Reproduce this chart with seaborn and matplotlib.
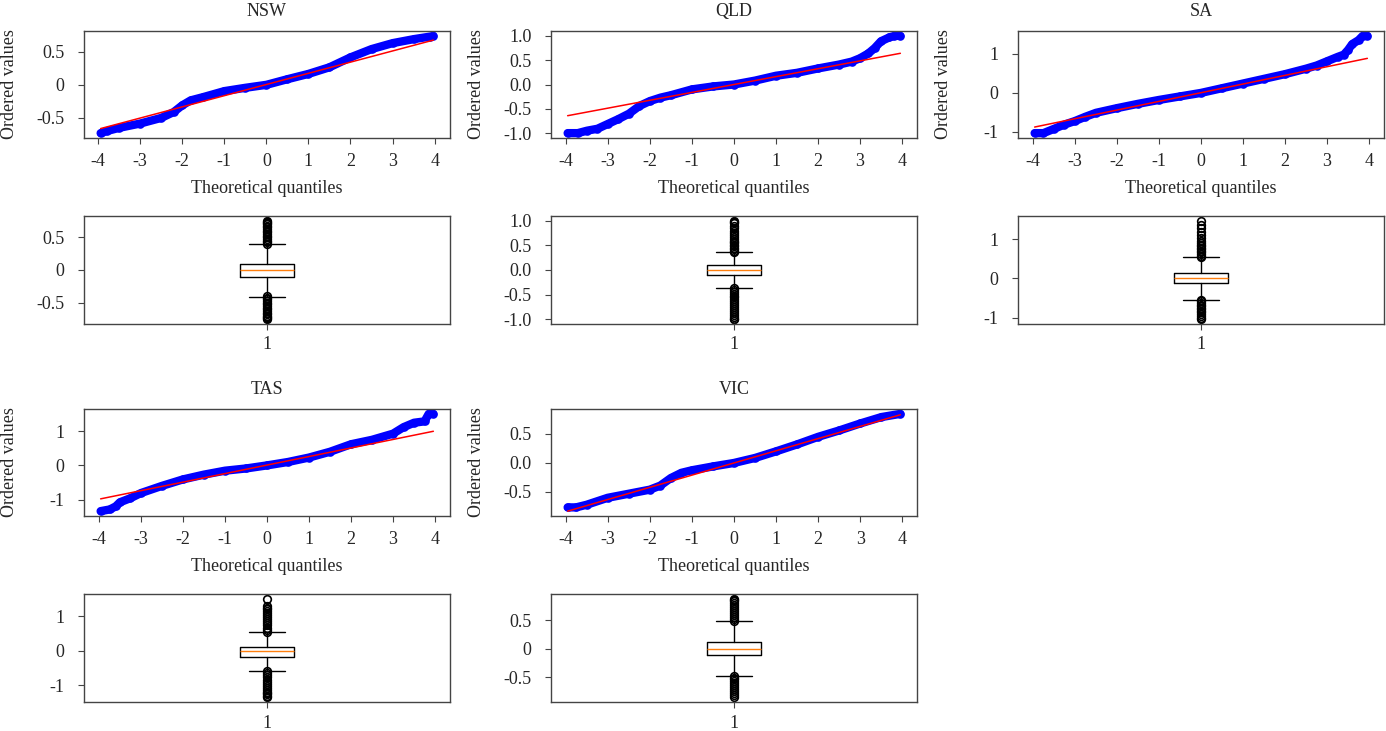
import numpy as np
import pandas as pd
import matplotlib.pyplot as plt
import seaborn as sns

# ---- values ----
states = ['NSW', 'QLD', 'SA', 'TAS', 'VIC']

# probability plot curves: theoretical quantile -> ordered value
nsw_q = [-3.94, -3.8, -3.5, -3.0, -2.5, -2.2, -2.0, -1.8, -1.5, -1.0, -0.5, 0.0, 0.5, 1.0, 1.5, 2.0, 2.5, 3.0, 3.5, 3.9, 3.97]
nsw_v = [-0.73, -0.70, -0.65, -0.585, -0.50, -0.41, -0.31, -0.235, -0.185, -0.095, -0.045, 0.0, 0.085, 0.165, 0.265, 0.415, 0.54, 0.63, 0.69, 0.73, 0.74]

qld_q = [-3.96, -3.72, -3.5, -3.25, -3.0, -2.75, -2.5, -2.25, -2.0, -1.75, -1.5, -1.0, -0.5, 0.0, 0.5, 1.0, 1.5, 2.0, 2.5, 2.8, 3.0, 3.2, 3.35, 3.5, 3.7, 3.82, 3.96]
qld_v = [-1.0, -1.0, -0.95, -0.91, -0.81, -0.71, -0.60, -0.44, -0.34, -0.27, -0.22, -0.10, -0.04, 0.0, 0.08, 0.18, 0.24, 0.33, 0.41, 0.47, 0.54, 0.64, 0.75, 0.89, 0.97, 1.0, 1.0]

sa_q = [-3.96, -3.75, -3.5, -3.25, -3.0, -2.75, -2.5, -2.0, -1.5, -1.0, -0.5, 0.0, 0.5, 1.0, 1.5, 2.0, 2.5, 2.75, 3.0, 3.25, 3.4, 3.5, 3.6, 3.75, 3.85, 3.96]
sa_v = [-1.03, -1.03, -0.92, -0.81, -0.72, -0.61, -0.51, -0.39, -0.28, -0.18, -0.09, 0.0, 0.12, 0.24, 0.36, 0.48, 0.62, 0.70, 0.81, 0.92, 0.98, 1.10, 1.25, 1.35, 1.46, 1.46]

tas_q = [-3.96, -3.74, -3.6, -3.5, -3.25, -3.0, -2.5, -2.0, -1.5, -1.0, -0.5, 0.0, 0.5, 1.0, 1.5, 2.0, 2.5, 3.0, 3.25, 3.5, 3.75, 3.85, 3.96]
tas_v = [-1.34, -1.29, -1.20, -1.08, -0.96, -0.81, -0.60, -0.41, -0.27, -0.155, -0.09, 0.0, 0.10, 0.23, 0.40, 0.62, 0.75, 0.93, 1.12, 1.25, 1.29, 1.51, 1.51]

vic_q = [-3.95, -3.75, -3.5, -3.0, -2.5, -2.0, -1.75, -1.5, -1.25, -1.0, -0.5, 0.0, 0.5, 1.0, 1.5, 2.0, 2.5, 3.0, 3.5, 3.95]
vic_v = [-0.765, -0.765, -0.72, -0.60, -0.53, -0.46, -0.39, -0.26, -0.17, -0.126, -0.06, 0.0, 0.086, 0.20, 0.32, 0.45, 0.56, 0.68, 0.79, 0.845]

# red least-squares lines: slope, intercept
nsw_fit = [0.169, 0.005]
qld_fit = [0.162, 0.0]
sa_fit = [0.222, 0.005]
tas_fit = [0.25, 0.01]
vic_fit = [0.21, 0.0]

# box plots: lower whisker, q1, median, q3, upper whisker
nsw_box = [-0.405, -0.104, -0.005, 0.094, 0.40]
qld_box = [-0.36, -0.095, 0.0, 0.095, 0.36]
sa_box = [-0.54, -0.127, 0.0, 0.143, 0.55]
tas_box = [-0.59, -0.18, 0.0, 0.126, 0.56]
vic_box = [-0.474, -0.114, -0.01, 0.126, 0.486]

nsw_fliers = [0.40, 0.425, 0.45, 0.475, 0.50, 0.525, 0.55, 0.575, 0.60, 0.625, 0.65, 0.675, 0.70, 0.72, 0.735, 0.75,
              -0.40, -0.425, -0.45, -0.475, -0.50, -0.525, -0.55, -0.575, -0.60, -0.625, -0.65, -0.675, -0.70, -0.72, -0.735, -0.75]
qld_fliers = [0.36, 0.39, 0.42, 0.45, 0.48, 0.51, 0.54, 0.57, 0.60, 0.63, 0.68, 0.72, 0.76, 0.80, 0.85, 0.90, 0.95, 0.98, 1.0,
              -0.36, -0.40, -0.44, -0.48, -0.52, -0.56, -0.60, -0.64, -0.68, -0.72, -0.76, -0.80, -0.84, -0.88, -0.92, -0.96, -0.99, -1.0]
sa_fliers = [0.55, 0.58, 0.62, 0.66, 0.70, 0.74, 0.78, 0.82, 0.86, 0.90, 0.94, 1.02, 1.10, 1.19, 1.27, 1.36, 1.46,
             -0.54, -0.58, -0.62, -0.66, -0.70, -0.74, -0.78, -0.82, -0.85, -0.90, -0.95, -1.0, -1.03]
tas_fliers = [0.56, 0.62, 0.68, 0.74, 0.80, 0.86, 0.92, 0.98, 1.04, 1.10, 1.16, 1.22, 1.26, 1.29, 1.51,
              -0.59, -0.65, -0.71, -0.77, -0.83, -0.89, -0.95, -1.01, -1.07, -1.13, -1.18, -1.22, -1.26, -1.30, -1.34]
vic_fliers = [0.49, 0.525, 0.56, 0.595, 0.63, 0.665, 0.70, 0.735, 0.77, 0.805, 0.84, 0.865, 0.88,
              -0.47, -0.505, -0.54, -0.575, -0.61, -0.645, -0.68, -0.715, -0.75, -0.785, -0.82, -0.85]

qq_xticks = [-4, -3, -2, -1, 0, 1, 2, 3, 4]
qq_yticks = {'NSW': [-0.5, 0, 0.5], 'QLD': [-1.0, -0.5, 0.0, 0.5, 1.0], 'SA': [-1, 0, 1],
             'TAS': [-1, 0, 1], 'VIC': [-0.5, 0.0, 0.5]}
qq_ylabels = {'NSW': ['-0.5', '0', '0.5'], 'QLD': ['-1.0', '-0.5', '0.0', '0.5', '1.0'],
              'SA': ['-1', '0', '1'], 'TAS': ['-1', '0', '1'], 'VIC': ['-0.5', '0.0', '0.5']}
box_ylabels = {'NSW': ['-0.5', '0', '0.5'], 'QLD': ['-1.0', '-0.5', '0.0', '0.5', '1.0'],
               'SA': ['-1', '0', '1'], 'TAS': ['-1', '0', '1'], 'VIC': ['-0.5', '0', '0.5']}

qq = {'NSW': (nsw_q, nsw_v, nsw_fit), 'QLD': (qld_q, qld_v, qld_fit), 'SA': (sa_q, sa_v, sa_fit),
      'TAS': (tas_q, tas_v, tas_fit), 'VIC': (vic_q, vic_v, vic_fit)}
boxes = {'NSW': (nsw_box, nsw_fliers), 'QLD': (qld_box, qld_fliers), 'SA': (sa_box, sa_fliers),
         'TAS': (tas_box, tas_fliers), 'VIC': (vic_box, vic_fliers)}

# ---- style ----
sns.set_style('ticks')
plt.rcParams['font.family'] = ['Liberation Serif', 'DejaVu Serif']
plt.rcParams['axes.unicode_minus'] = False
plt.rcParams['font.size'] = 13

W, H = 1386, 731
fig = plt.figure(figsize=(W / 100, H / 100), dpi=100)


def rect(left, top, w, h):
    return [left / W, 1 - (top + h) / H, w / W, h / H]


col_left = [84, 551, 1018]
qq_top = [31, 31, 31, 409, 409]
box_top = [216, 216, 216, 594, 594]
cols = [0, 1, 2, 0, 1]


def style_axes(ax, xpad=7):
    for sp in ax.spines.values():
        sp.set_color('#444444')
        sp.set_linewidth(1.0)
    ax.tick_params(direction='out', length=4, width=0.8, color='#444444', labelsize=13)
    ax.tick_params(axis='y', pad=10)
    ax.tick_params(axis='x', pad=xpad)


for i, st in enumerate(states):
    q, v, fit = qq[st]
    ax = fig.add_axes(rect(col_left[cols[i]], qq_top[i], 366, 107))
    df = pd.DataFrame({'q': q, 'v': v})
    sns.lineplot(data=df, x='q', y='v', ax=ax, sort=False, estimator=None, color='blue',
                 lw=6, marker='o', markersize=6.2, markeredgewidth=0,
                 solid_capstyle='round', solid_joinstyle='round')
    line_x = [q[0], q[-1]]
    line_y = [fit[0] * x + fit[1] for x in line_x]
    sns.lineplot(x=line_x, y=line_y, ax=ax, color='red', lw=1.1, estimator=None)
    ax.set_xticks(qq_xticks)
    ax.set_xticklabels([str(t) for t in qq_xticks])
    ax.set_yticks(qq_yticks[st])
    ax.set_yticklabels(qq_ylabels[st])
    ax.set_title(st, fontsize=13, pad=11)
    ax.set_xlabel('Theoretical quantiles', fontsize=13)
    ax.set_ylabel('Ordered values', fontsize=13)
    ax.xaxis.set_label_coords(0.5, -0.39)
    ax.yaxis.set_label_coords(-0.18, 0.5)
    style_axes(ax)

    b, fl = boxes[st]
    bx = fig.add_axes(rect(col_left[cols[i]], box_top[i], 366, 108))
    stats = [{'whislo': b[0], 'q1': b[1], 'med': b[2], 'q3': b[3], 'whishi': b[4],
              'fliers': np.array(fl), 'label': '1'}]
    bx.bxp(stats, positions=[1], widths=0.15, capwidths=0.1,
           boxprops=dict(color='black', lw=1),
           whiskerprops=dict(color='black', lw=1),
           capprops=dict(color='black', lw=1),
           medianprops=dict(color='#ff7f0e', lw=1),
           flierprops=dict(marker='o', markerfacecolor='none', markeredgecolor='black',
                           markersize=5.5, markeredgewidth=1.2))
    bx.set_xlim(0.5, 1.5)
    bx.set_xticks([1])
    bx.set_xticklabels(['1'])
    bx.set_yticks(qq_yticks[st])
    bx.set_yticklabels(box_ylabels[st])
    style_axes(bx, xpad=5)

fig.savefig('out.png', dpi=100)
